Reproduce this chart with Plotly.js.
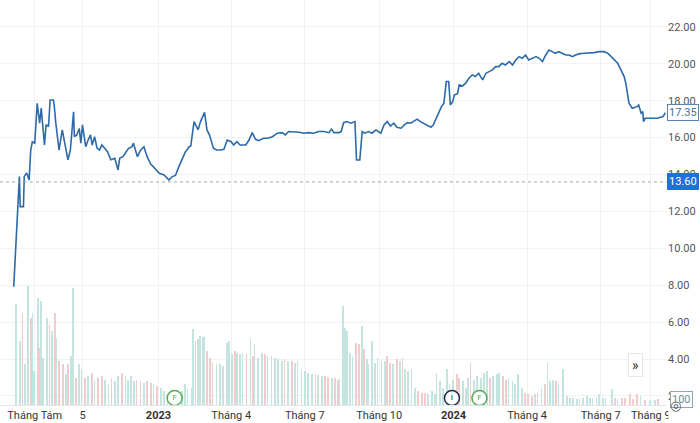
<!DOCTYPE html>
<html>
<head>
<meta charset="utf-8">
<script src="https://cdn.plot.ly/plotly-3.0.1.min.js"></script>
<style>
  html, body { margin: 0; padding: 0; background: #fff; }
  #chart { width: 700px; height: 423px; }
</style>
</head>
<body>
<div id="chart"></div>
<script>
// Daily close
const priceDates = [
  '2022-07-06','2022-07-11','2022-07-13','2022-07-14','2022-07-18','2022-07-19','2022-07-22','2022-07-25','2022-07-27','2022-07-29',
  '2022-08-01','2022-08-04','2022-08-07','2022-08-09','2022-08-13','2022-08-15','2022-08-18','2022-08-20','2022-08-24','2022-08-25',
  '2022-08-27','2022-08-31','2022-09-04','2022-09-08','2022-09-11','2022-09-14','2022-09-18','2022-09-19','2022-09-22','2022-09-25',
  '2022-09-27','2022-09-29','2022-10-03','2022-10-06','2022-10-09','2022-10-11','2022-10-14','2022-10-17','2022-10-20','2022-10-23',
  '2022-10-26','2022-10-30','2022-11-03','2022-11-08','2022-11-12','2022-11-14','2022-11-18','2022-11-21','2022-11-25','2022-11-29',
  '2022-12-01','2022-12-06','2022-12-10','2022-12-14','2022-12-18','2022-12-22','2022-12-28','2023-01-02','2023-01-08','2023-01-14',
  '2023-01-18','2023-01-22','2023-01-26','2023-01-30','2023-02-03','2023-02-08','2023-02-10','2023-02-14','2023-02-19','2023-02-22',
  '2023-02-27','2023-03-02','2023-03-05','2023-03-10','2023-03-14','2023-03-19','2023-03-23','2023-03-27','2023-04-01','2023-04-04',
  '2023-04-08','2023-04-12','2023-04-19','2023-04-23','2023-04-27','2023-05-01','2023-05-05','2023-05-11','2023-05-16','2023-05-22',
  '2023-05-28','2023-06-03','2023-06-07','2023-06-11','2023-06-17','2023-06-24','2023-06-30','2023-07-06','2023-07-12','2023-07-18',
  '2023-07-25','2023-07-31','2023-08-03','2023-08-06','2023-08-12','2023-08-15','2023-08-18','2023-08-22','2023-08-27','2023-09-01',
  '2023-09-03','2023-09-07','2023-09-10','2023-09-13','2023-09-18','2023-09-22','2023-09-27','2023-10-03','2023-10-07','2023-10-11',
  '2023-10-15','2023-10-19','2023-10-23','2023-10-28','2023-11-01','2023-11-05','2023-11-09','2023-11-13','2023-11-17','2023-11-21',
  '2023-11-25','2023-11-30','2023-12-04','2023-12-07','2023-12-12','2023-12-17','2023-12-20','2023-12-23','2023-12-26','2023-12-28',
  '2023-12-31','2024-01-02','2024-01-06','2024-01-08','2024-01-12','2024-01-16','2024-01-20','2024-01-24','2024-01-28','2024-02-01',
  '2024-02-06','2024-02-10','2024-02-14','2024-02-18','2024-02-22','2024-02-26','2024-03-01','2024-03-05','2024-03-10','2024-03-14',
  '2024-03-18','2024-03-22','2024-03-26','2024-03-30','2024-04-03','2024-04-07','2024-04-12','2024-04-16','2024-04-20','2024-04-24',
  '2024-04-28','2024-05-02','2024-05-06','2024-05-10','2024-05-15','2024-05-19','2024-05-23','2024-05-27','2024-05-31','2024-06-04',
  '2024-06-10','2024-06-17','2024-06-23','2024-06-29','2024-07-05','2024-07-10','2024-07-13','2024-07-18','2024-07-22','2024-07-26',
  '2024-07-30','2024-08-01','2024-08-03','2024-08-05','2024-08-09','2024-08-15','2024-08-17','2024-08-20','2024-08-22','2024-08-23',
  '2024-08-25','2024-09-09','2024-09-16','2024-09-19'
];
const priceValues = [
  7.92, 11.9, 13.89, 12.26, 12.26, 13.9, 14.09, 13.7, 15.33, 15.78,
  15.7, 17.86, 16.78, 17.6, 15.6, 16.7, 16.6, 18.04, 18.04, 17.77,
  16.8, 15.33, 16.42, 15.5, 14.8, 15.33, 17.4, 16.05, 16.15, 16.5,
  15.7, 16.69, 15.51, 15.87, 16.15, 15.6, 16.05, 15.43, 15.33, 15.6,
  15.42, 15.24, 14.8, 14.88, 14.25, 14.88, 14.97, 15.15, 15.42, 15.5,
  15.7, 14.97, 15.33, 15.51, 14.97, 14.6, 14.34, 14.07, 13.98, 13.7,
  13.89, 13.95, 14.4, 14.79, 15.2, 15.51, 15.55, 16.87, 16.42, 16.87,
  17.37, 16.42, 16.15, 15.43, 15.33, 15.33, 15.37, 15.87, 15.78, 15.6,
  15.78, 15.6, 15.6, 15.87, 16.27, 15.91, 15.84, 15.97, 15.97, 16.05,
  16.24, 16.27, 16.15, 16.33, 16.33, 16.29, 16.24, 16.27, 16.24, 16.33,
  16.33, 16.27, 16.46, 16.27, 16.27, 16.33, 16.81, 16.87, 16.78, 16.87,
  14.79, 14.79, 16.33, 16.24, 16.33, 16.24, 16.42, 16.24, 16.69, 16.87,
  16.63, 16.78, 16.56, 16.51, 16.69, 16.81, 16.78, 16.87, 17.0, 16.87,
  16.78, 16.63, 16.56, 16.69, 17.23, 17.68, 17.86, 19.04, 19.04, 17.77,
  17.95, 18.31, 18.4, 18.86, 18.8, 18.95, 19.22, 19.4, 19.31, 19.49,
  19.13, 19.49, 19.58, 19.67, 19.85, 19.85, 20.03, 19.94, 20.12, 19.94,
  20.21, 20.39, 20.3, 20.48, 20.21, 20.3, 20.39, 20.3, 20.12, 20.48,
  20.75, 20.66, 20.57, 20.66, 20.57, 20.48, 20.48, 20.39, 20.48, 20.54,
  20.57, 20.57, 20.61, 20.66, 20.66, 20.57, 20.43, 20.21, 20.03, 19.67,
  19.31, 18.95, 18.4, 17.86, 17.59, 17.68, 17.77, 17.32, 17.41, 16.87,
  17.05, 17.05, 17.14, 17.35
];

// Volume (millions, estimated) and candle direction (u = up, d = down)
const volDates = [
  '2022-07-09','2022-07-14','2022-07-17','2022-07-20','2022-07-24','2022-07-27','2022-07-29','2022-07-31','2022-08-05','2022-08-06',
  '2022-08-09','2022-08-11','2022-08-16','2022-08-19','2022-08-22','2022-08-26','2022-08-28','2022-08-31','2022-09-05','2022-09-09',
  '2022-09-11','2022-09-15','2022-09-17','2022-09-21','2022-09-25','2022-09-28','2022-10-02','2022-10-06','2022-10-11','2022-10-14',
  '2022-10-18','2022-10-23','2022-10-27','2022-10-31','2022-11-04','2022-11-08','2022-11-12','2022-11-17','2022-11-21','2022-11-24',
  '2022-11-28','2022-12-02','2022-12-05','2022-12-10','2022-12-14','2022-12-18','2022-12-23','2022-12-26','2022-12-30','2023-01-04',
  '2023-01-08','2023-01-12','2023-01-16','2023-01-20','2023-01-25','2023-01-30','2023-02-03','2023-02-06','2023-02-11','2023-02-13',
  '2023-02-16','2023-02-19','2023-02-21','2023-02-25','2023-02-27','2023-03-02','2023-03-06','2023-03-09','2023-03-14','2023-03-18',
  '2023-03-22','2023-03-27','2023-03-29','2023-04-02','2023-04-06','2023-04-08','2023-04-12','2023-04-15','2023-04-20','2023-04-25',
  '2023-04-28','2023-04-30','2023-05-04','2023-05-09','2023-05-13','2023-05-16','2023-05-21','2023-05-25','2023-05-29','2023-06-03',
  '2023-06-06','2023-06-10','2023-06-15','2023-06-19','2023-06-22','2023-06-27','2023-07-01','2023-07-05','2023-07-10','2023-07-14',
  '2023-07-17','2023-07-22','2023-07-26','2023-07-30','2023-08-04','2023-08-07','2023-08-11','2023-08-13','2023-08-17','2023-08-20',
  '2023-08-22','2023-08-26','2023-08-29','2023-09-02','2023-09-06','2023-09-10','2023-09-12','2023-09-16','2023-09-18','2023-09-22',
  '2023-09-26','2023-09-29','2023-10-04','2023-10-08','2023-10-11','2023-10-14','2023-10-18','2023-10-23','2023-10-27','2023-10-30',
  '2023-11-02','2023-11-06','2023-11-10','2023-11-14','2023-11-18','2023-11-23','2023-11-27','2023-11-30','2023-12-05','2023-12-09',
  '2023-12-11','2023-12-15','2023-12-19','2023-12-24','2023-12-27','2023-12-31','2024-01-05','2024-01-08','2024-01-13','2024-01-16',
  '2024-01-19','2024-01-22','2024-01-26','2024-01-30','2024-02-04','2024-02-08','2024-02-11','2024-02-15','2024-02-19','2024-02-24',
  '2024-02-26','2024-03-02','2024-03-06','2024-03-09','2024-03-14','2024-03-17','2024-03-21','2024-03-26','2024-03-29','2024-04-02',
  '2024-04-07','2024-04-11','2024-04-14','2024-04-19','2024-04-23','2024-04-26','2024-04-29','2024-05-03','2024-05-07','2024-05-10',
  '2024-05-15','2024-05-20','2024-05-24','2024-05-28','2024-06-02','2024-06-05','2024-06-09','2024-06-14','2024-06-18','2024-06-21',
  '2024-06-26','2024-06-29','2024-07-04','2024-07-07','2024-07-15','2024-07-19','2024-07-22','2024-07-27','2024-07-31','2024-08-06',
  '2024-08-10','2024-08-15','2024-08-19','2024-08-25','2024-08-31','2024-09-06','2024-09-10'
];
const volValues = [
  1.01, 0.64, 0.92, 0.41, 1.19, 0.87, 0.92, 0.34, 1.07, 0.57,
  1.04, 0.47, 0.87, 0.81, 0.74, 0.92, 0.67, 0.44, 0.41, 0.31,
  0.41, 0.49, 1.17, 0.27, 0.41, 0.36, 0.27, 0.29, 0.32, 0.25,
  0.27, 0.29, 0.25, 0.21, 0.27, 0.24, 0.29, 0.32, 0.29, 0.25,
  0.29, 0.24, 0.25, 0.24, 0.22, 0.24, 0.22, 0.21, 0.19, 0.17,
  0.14, 0.11, 0.09, 0.11, 0.12, 0.14, 0.21, 0.16, 0.17, 0.76,
  0.64, 0.66, 0.69, 0.68, 0.69, 0.54, 0.47, 0.42, 0.41, 0.41,
  0.39, 0.62, 0.64, 0.51, 0.54, 0.52, 0.51, 0.52, 0.51, 0.66,
  0.49, 0.61, 0.47, 0.52, 0.51, 0.49, 0.49, 0.47, 0.46, 0.44,
  0.46, 0.44, 0.44, 0.42, 0.44, 0.36, 0.34, 0.32, 0.31, 0.31,
  0.30, 0.29, 0.29, 0.28, 0.27, 0.27, 0.25, 0.27, 0.99, 0.77,
  0.74, 0.52, 0.49, 0.62, 0.61, 0.79, 0.56, 0.46, 0.41, 0.64,
  0.42, 0.47, 0.44, 0.44, 0.49, 0.42, 0.41, 0.46, 0.44, 0.47,
  0.36, 0.34, 0.36, 0.17, 0.14, 0.12, 0.12, 0.11, 0.14, 0.11,
  0.32, 0.24, 0.17, 0.36, 0.21, 0.25, 0.31, 0.27, 0.24, 0.17,
  0.27, 0.42, 0.25, 0.29, 0.27, 0.32, 0.34, 0.27, 0.29, 0.31,
  0.32, 0.29, 0.25, 0.27, 0.24, 0.21, 0.31, 0.17, 0.12, 0.11,
  0.09, 0.11, 0.12, 0.17, 0.21, 0.42, 0.24, 0.25, 0.24, 0.21,
  0.36, 0.09, 0.07, 0.07, 0.06, 0.07, 0.07, 0.09, 0.07, 0.07,
  0.07, 0.11, 0.07, 0.07, 0.16, 0.07, 0.06, 0.07, 0.07, 0.11,
  0.06, 0.11, 0.09, 0.05, 0.05, 0.05, 0.06
];
const volSide = [
  'u','u','d','u','u','d','u','u','u','d',
  'u','u','u','d','u','d','u','d','d','u',
  'd','u','u','d','u','u','d','u','d','u',
  'd','d','u','u','d','u','u','d','u','u',
  'u','u','d','d','u','d','d','u','d','u',
  'u','d','u','u','u','u','u','u','u','u',
  'd','u','u','u','u','d','d','d','u','u',
  'u','u','u','u','d','u','u','u','d','u',
  'd','u','u','u','d','u','u','u','u','u',
  'd','u','d','u','u','u','u','u','u','d',
  'u','u','d','d','u','d','d','u','u','u',
  'u','u','u','d','d','u','d','u','u','u',
  'u','u','u','u','d','d','u','d','u','d',
  'u','u','u','u','d','d','d','u','u','u',
  'u','u','u','u','u','u','d','d','u','u',
  'u','d','u','u','u','u','u','d','u','u',
  'u','d','d','u','u','u','u','u','d','d',
  'd','u','d','u','d','u','u','u','d','u',
  'u','u','u','u','u','u','u','u','u','u',
  'u','u','u','u','u','d','u','d','d','d',
  'd','d','u','d','u','u','d'
];

// Event markers on the time axis
const eventDates = ['2023-01-21', '2023-12-30', '2024-02-02'];
const eventLabels = ['F', 'I', 'F'];

// x-axis ticks
const tickDates = ['2022-08-01','2022-09-29','2023-01-01','2023-04-01','2023-07-01','2023-10-01','2024-01-01','2024-04-01','2024-07-01','2024-09-01'];
const tickLabels = ['Tháng Tám','5','<b>2023</b>','Tháng 4','Tháng 7','Tháng 10','<b>2024</b>','Tháng 4','Tháng 7','Tháng 9'];
const priceTicks = [2, 4, 6, 8, 10, 12, 14, 16, 18, 20, 22];

const lastPrice = 17.35;
const refPrice = 13.60;
const lastVolumeLabel = '100';

const COLORS = {
  line: '#2d6aa8',
  volUp: '#c3e4df',
  volDown: '#f1cccc',
  grid: '#f0f2f6',
  text: '#333333',
  axisText: '#555555',
  blue: '#1f6fe0',
  green: '#4caf50',
  navy: '#1b2a4a'
};

const FONT = 'Roboto, "Noto Sans", Arial, sans-serif';
const DAY = 86400000;

const volumeTrace = {
  type: 'bar',
  x: volDates,
  y: volValues,
  yaxis: 'y2',
  width: 2.0 * DAY,
  marker: { color: volSide.map(s => s === 'u' ? COLORS.volUp : COLORS.volDown), line: { width: 0 } },
  hoverinfo: 'skip'
};

const priceTrace = {
  type: 'scatter',
  mode: 'lines',
  x: priceDates,
  y: priceValues,
  line: { color: COLORS.line, width: 1.6 },
  hoverinfo: 'x+y'
};

const eventColors = eventLabels.map(l => l === 'I' ? COLORS.navy : COLORS.green);
const eventTrace = {
  type: 'scatter',
  mode: 'markers+text',
  x: eventDates,
  y: eventDates.map(() => 0.07),
  yaxis: 'y2',
  text: eventLabels,
  textposition: 'middle center',
  textfont: { size: 8, color: eventColors, family: FONT },
  marker: { size: 15, color: 'white', line: { width: 1.5, color: eventColors } },
  cliponaxis: false,
  hoverinfo: 'skip'
};

const layout = {
  width: 700,
  height: 423,
  margin: { l: 0, r: 33, t: 0, b: 18 },
  paper_bgcolor: 'white',
  plot_bgcolor: 'white',
  showlegend: false,
  font: { family: FONT, size: 11, color: COLORS.text },
  bargap: 0,
  xaxis: {
    type: 'date',
    range: ['2022-06-19', '2024-09-21'],
    tickvals: tickDates,
    ticktext: tickLabels,
    tickfont: { size: 11, color: COLORS.text },
    showgrid: true,
    gridcolor: COLORS.grid,
    showline: true,
    linecolor: '#e3e5ea',
    zeroline: false,
    ticks: ''
  },
  yaxis: {
    side: 'right',
    range: [1.51, 23.46],
    tickvals: priceTicks,
    tickformat: '.2f',
    tickfont: { size: 11, color: COLORS.axisText },
    showgrid: true,
    gridcolor: COLORS.grid,
    zeroline: false,
    ticks: ''
  },
  yaxis2: {
    overlaying: 'y',
    range: [0, 4.05],
    visible: false
  },
  shapes: [
    // reference price dotted line
    { type: 'line', xref: 'paper', x0: 0, x1: 1, yref: 'y', y0: refPrice, y1: refPrice,
      line: { color: '#a6a6a6', width: 1, dash: 'dot' } },
    // cut the last time label under the price scale
    { type: 'rect', xref: 'paper', x0: 1.002, x1: 1.06, yref: 'paper', y0: -0.05, y1: -0.002,
      fillcolor: 'white', line: { width: 0 }, layer: 'above' }
  ],
  annotations: [
    { xref: 'paper', x: 1, xanchor: 'left', yref: 'y', y: lastPrice, text: lastPrice.toFixed(2),
      showarrow: false, bgcolor: 'white', bordercolor: '#5a84ad', borderwidth: 1, borderpad: 1,
      font: { size: 11, color: '#44709b', family: FONT } },
    { xref: 'paper', x: 1, xanchor: 'left', yref: 'y', y: refPrice, text: refPrice.toFixed(2),
      showarrow: false, bgcolor: COLORS.blue, bordercolor: COLORS.blue, borderwidth: 1, borderpad: 1,
      font: { size: 11, color: 'white', family: FONT } },
    { xref: 'paper', x: 1.005, xanchor: 'left', yref: 'y2', y: 0.06, text: lastVolumeLabel,
      showarrow: false, bgcolor: 'white', bordercolor: '#86aaa5', borderwidth: 1, borderpad: 1,
      font: { size: 11, color: '#6f8f8b', family: FONT } },
    { xref: 'paper', x: 0.964, yref: 'paper', y: 0.068, text: '»',
      showarrow: false, bgcolor: 'white', bordercolor: '#e6e6e6', borderwidth: 1, borderpad: 3,
      font: { size: 14, color: '#333', family: FONT } },
    { xref: 'paper', x: 1.024, yref: 'paper', y: -0.024, text: '◎',
      showarrow: false, font: { size: 13, color: '#555', family: 'DejaVu Sans' } }
  ]
};

const config = { displayModeBar: false, responsive: false, staticPlot: true };

Plotly.newPlot('chart', [volumeTrace, priceTrace, eventTrace], layout, config);
</script>
</body>
</html>
